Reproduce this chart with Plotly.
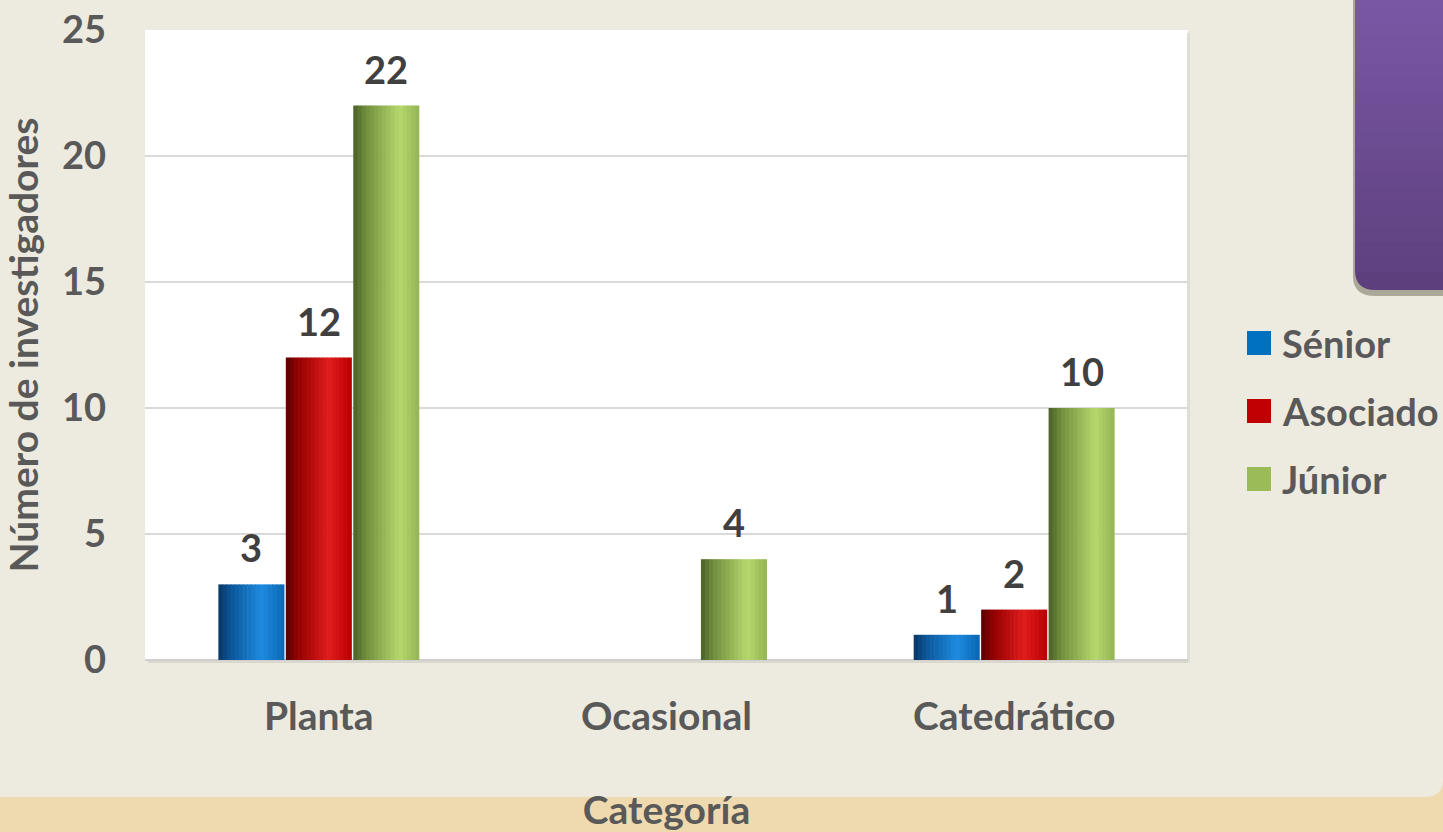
import plotly.graph_objects as go

# ---- data -------------------------------------------------------------
categories = ["Planta", "Ocasional", "Catedrático"]
series_names = ["Sénior", "Asociado", "Júnior"]
senior = [3, None, 1]
asociado = [12, None, 2]
junior = [22, 4, 10]
y_ticks = [0, 5, 10, 15, 20, 25]

series_values = [senior, asociado, junior]
legend_colors = ["#0070C0", "#C00000", "#9BBB59"]
# horizontal shading of each bar (position across bar, colour)
shading = [
    [(0.0, "#0A3562"), (0.18, "#0B5597"), (0.65, "#1E8BE0"), (1.0, "#0A66B2")],
    [(0.0, "#560000"), (0.18, "#930000"), (0.65, "#E01C1C"), (1.0, "#BA0000")],
    [(0.0, "#4A6127"), (0.18, "#6F8C3C"), (0.7, "#B6D76C"), (1.0, "#93B454")],
]

# ---- geometry ---------------------------------------------------------
W, H = 1443, 832
M_L, M_R, M_T, M_B = 145, 255, 30, 172
PW, PH = W - M_L - M_R, H - M_T - M_B

SLOT = 0.194        # width reserved for one bar (category units)
BAR_W = 0.19        # drawn bar width
N_SLICES = 16

AX_COLOR = "#595959"
LBL_COLOR = "#404040"
FONT = "Lato"
FS = 38
FS_BIG = 39


def px_x(px):
    return (px - M_L) / PW


def px_y(py):
    return (H - M_B - py) / PH


def hex2rgb(h):
    h = h.lstrip("#")
    return tuple(int(h[i:i + 2], 16) for i in (0, 2, 4))


def shade_at(stops, t):
    for (t0, c0), (t1, c1) in zip(stops, stops[1:]):
        if t0 <= t <= t1:
            f = (t - t0) / (t1 - t0) if t1 > t0 else 0
            a, b = hex2rgb(c0), hex2rgb(c1)
            r, g, bl = (round(a[k] + (b[k] - a[k]) * f) for k in range(3))
            return f"rgb({r},{g},{bl})"
    return stops[-1][1]


fig = go.Figure()

# bars, drawn as thin vertical strips to give the cylinder shading
dw = BAR_W / N_SLICES
for i, (name, vals) in enumerate(zip(series_names, series_values)):
    start = -1.5 * SLOT + i * SLOT + (SLOT - BAR_W) / 2
    for j in range(N_SLICES):
        t = (j + 0.5) / N_SLICES
        fig.add_trace(go.Bar(
            x=categories, y=vals, name=name,
            offset=start + j * dw,
            width=dw * (1.0 if j == N_SLICES - 1 else 1.15),
            marker=dict(color=shade_at(shading[i], t), line=dict(width=0)),
            showlegend=False, legendgroup=name,
            hovertemplate=f"{name}<br>%{{x}}: %{{y}}<extra></extra>",
        ))

# value labels above bars
annotations = []
for i, vals in enumerate(series_values):
    center = -SLOT + i * SLOT
    for k, v in enumerate(vals):
        if v is None:
            continue
        annotations.append(dict(
            x=k + center, y=v, xref="x", yref="y",
            text=f"<b>{v}</b>", showarrow=False,
            yanchor="middle", yshift=37,
            font=dict(family=FONT, size=FS, color=LBL_COLOR),
        ))

# legend
legend_y = [343, 411, 479]
shapes = []
for name, col, cy in zip(series_names, legend_colors, legend_y):
    shapes.append(dict(type="rect", xref="paper", yref="paper",
                       x0=px_x(1247), x1=px_x(1271),
                       y0=px_y(cy + 12), y1=px_y(cy - 12),
                       fillcolor=col, line=dict(width=0)))
    annotations.append(dict(
        x=px_x(1280), y=px_y(cy), xref="paper", yref="paper",
        xanchor="left", yanchor="middle", showarrow=False,
        text=f"<b>{name}</b>",
        font=dict(family=FONT, size=FS, color=AX_COLOR),
    ))


def path_px(points, close=True):
    """Build an SVG path in paper units; one command letter per point group."""
    d = ""
    for cmd, pts in points:
        d += cmd + " ".join(f"{px_x(x):.5f},{px_y(y):.5f}" for x, y in pts) + " "
    return d + ("Z" if close else "")


# sandy band along the bottom, with the panel's rounded corner
shapes.append(dict(
    type="path", xref="paper", yref="paper", layer="below",
    path=path_px([("M", [(-5, 797)]), ("L", [(1425, 797)]),
                  ("Q", [(1443, 797), (1443, 779)]),
                  ("L", [(1450, 779)]), ("L", [(1450, 840)]),
                  ("L", [(-5, 840)])]),
    fillcolor="#EFD9AE", line=dict(width=0)))

# soft shadow along the plot area's bottom and right edges
shapes.append(dict(type="rect", xref="paper", yref="paper", layer="below",
                   x0=px_x(148), x1=px_x(1190), y0=px_y(663), y1=px_y(660),
                   fillcolor="#DAD7CD", line=dict(width=0)))
shapes.append(dict(type="rect", xref="paper", yref="paper", layer="below",
                   x0=px_x(1187), x1=px_x(1190), y0=px_y(663), y1=px_y(33),
                   fillcolor="#E0DDD2", line=dict(width=0)))

# purple box in the top-right corner, shaded top to bottom
R = 20
X0, X1, Y0, Y1 = 1355, 1450, -5, 290
shapes.append(dict(
    type="path", xref="paper", yref="paper", layer="above",
    path=path_px([("M", [(X0 - 2, Y0)]), ("L", [(X0 - 2, Y1 - R + 6)]),
                  ("Q", [(X0 - 2, Y1 + 6), (X0 + R, Y1 + 6)]),
                  ("L", [(X1, Y1 + 6)]), ("L", [(X1, Y0)])]),
    fillcolor="rgba(150,146,130,0.75)", line=dict(width=0)))
shapes.append(dict(
    type="path", xref="paper", yref="paper", layer="above",
    path=path_px([("M", [(X0, Y0)]), ("L", [(X0, Y1 - R)]),
                  ("Q", [(X0, Y1), (X0 + R, Y1)]),
                  ("L", [(X1, Y1)]), ("L", [(X1, Y0)])]),
    fillcolor="#5D3F7D", line=dict(width=0)))
top_c, bot_c = hex2rgb("#7B58A6"), hex2rgb("#5D3F7D")
n_strips = 20
strip_h = (Y1 - R - Y0) / n_strips
for s in range(n_strips):
    f = (s + 0.5) / n_strips * (Y1 - R - Y0) / (Y1 - Y0)
    c = tuple(round(top_c[k] + (bot_c[k] - top_c[k]) * f) for k in range(3))
    shapes.append(dict(
        type="rect", xref="paper", yref="paper", layer="above",
        x0=px_x(X0), x1=px_x(X1),
        y0=px_y(Y0 + (s + 1) * strip_h + 2), y1=px_y(Y0 + s * strip_h),
        fillcolor=f"rgb({c[0]},{c[1]},{c[2]})", line=dict(width=0)))

fig.update_layout(
    width=W, height=H,
    margin=dict(l=M_L, r=M_R, t=M_T, b=M_B, pad=0, autoexpand=False),
    paper_bgcolor="#EDEBDF", plot_bgcolor="#FFFFFF",
    barmode="overlay", showlegend=False,
    font=dict(family=FONT, size=FS, color=AX_COLOR),
    shapes=shapes, annotations=annotations,
    xaxis=dict(
        type="category", categoryorder="array", categoryarray=categories,
        range=[-0.5, len(categories) - 0.5], automargin=False,
        showgrid=False, zeroline=False, showline=False, ticks="",
        tickfont=dict(family=FONT, size=FS_BIG, color=AX_COLOR, weight="bold"),
        ticklabelstandoff=30,
        title=dict(text="<b>Categoría</b>", standoff=60,
                   font=dict(family=FONT, size=FS_BIG, color=AX_COLOR)),
        fixedrange=True,
    ),
    yaxis=dict(
        range=[0, 25], tickvals=y_ticks, automargin=False,
        showgrid=True, gridcolor="#D9D9D9", gridwidth=2,
        zeroline=True, zerolinecolor="#D0D0D0", zerolinewidth=2,
        showline=False, ticks="",
        tickfont=dict(family=FONT, size=FS, color=AX_COLOR, weight="bold"),
        ticklabelstandoff=38,
        title=dict(text="<b>Número de investigadores</b>", standoff=12,
                   font=dict(family=FONT, size=FS_BIG, color=AX_COLOR)),
        fixedrange=True,
    ),
)

fig.write_html("out.html", config={"displayModeBar": False})
